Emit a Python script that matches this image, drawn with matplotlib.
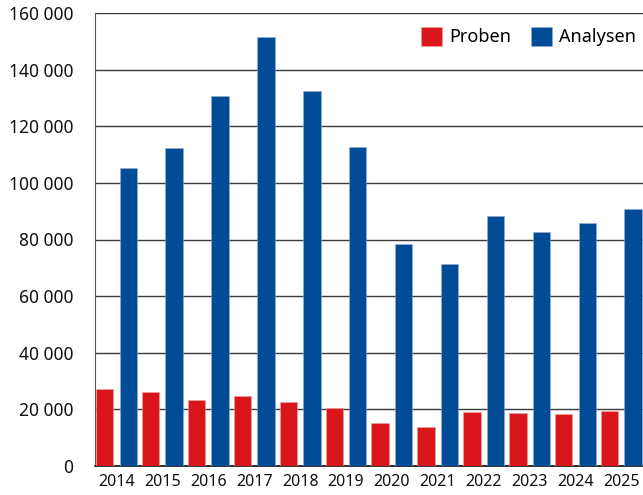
import matplotlib.pyplot as plt
import numpy as np

years = ['2014', '2015', '2016', '2017', '2018', '2019',
         '2020', '2021', '2022', '2023', '2024', '2025']
proben = [27300, 26300, 23400, 24700, 22600, 20400,
          15100, 13700, 19200, 18600, 18400, 19300]
analysen = [105300, 112300, 130700, 151600, 132500, 112700,
            78400, 71400, 88300, 82700, 85900, 90800]

RED = '#d8161b'
BLUE = '#024b97'

plt.rcParams['font.family'] = ['Noto Sans', 'DejaVu Sans']


def main():
    fig = plt.figure(figsize=(6.43, 4.95), dpi=100)
    ax = fig.add_axes([95 / 643, 1 - 466 / 495, 1 - 95 / 643, 453 / 495])

    x = np.arange(len(years))
    w = 0.38
    ax.bar(x - 0.256, proben, width=w, color=RED, edgecolor='#f0a0a0',
           linewidth=0.4, label='Proben', zorder=3)
    ax.bar(x + 0.256, analysen, width=w, color=BLUE, edgecolor='#8fb0d8',
           linewidth=0.4, label='Analysen', zorder=3)

    ax.set_xlim(-0.468, 11.47)
    ax.set_ylim(0, 160000)
    ax.set_yticks(range(0, 160001, 20000))
    ax.set_yticklabels([f'{v:,}'.replace(',', ' ') for v in range(0, 160001, 20000)])
    ax.set_xticks(x)
    ax.set_xticklabels(years)
    ax.tick_params(axis='y', length=0, pad=15.5, labelsize=12.5, colors='#111111')
    ax.tick_params(axis='x', length=0, pad=6, labelsize=11.5, colors='#111111')

    ax.grid(axis='y', color='#3a3a3a', linewidth=1.0, zorder=0)
    ax.set_axisbelow(True)
    for s in ['top', 'right']:
        ax.spines[s].set_visible(False)
    ax.spines['left'].set_color('#555555')
    ax.spines['bottom'].set_color('#111111')
    ax.spines['bottom'].set_linewidth(1.2)

    ax.legend(loc='upper right', ncol=2, frameon=False, fontsize=13,
              handlelength=1.15, handleheight=1.2, handletextpad=0.4,
              columnspacing=1.1, borderaxespad=0.0, bbox_to_anchor=(1.0, 0.985))

    plt.savefig('out.png', dpi=100)


if __name__ == '__main__':
    main()
